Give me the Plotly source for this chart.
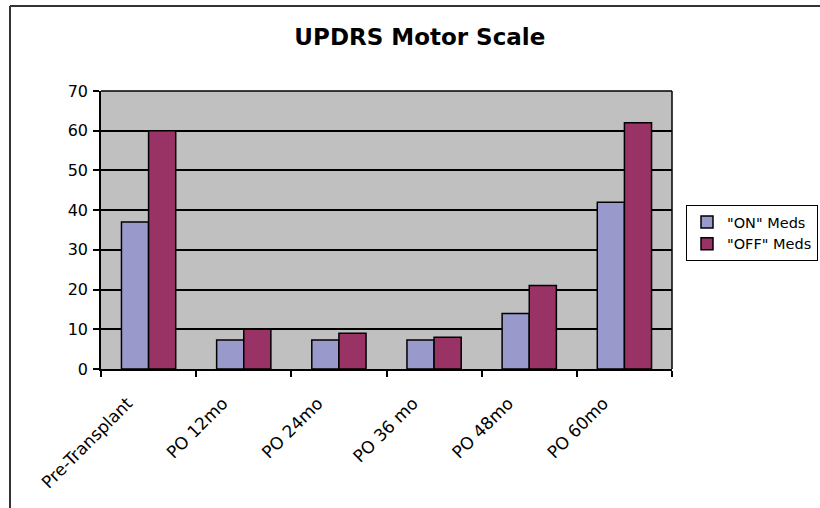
import plotly.graph_objects as go

categories = ["Pre-Transplant", "PO 12mo", "PO 24mo", "PO 36 mo", "PO 48mo", "PO 60mo"]
on_meds = [37, 7.3, 7.3, 7.3, 14, 42]
off_meds = [60, 10, 9, 8, 21, 62]
y_ticks = [0, 10, 20, 30, 40, 50, 60, 70]

FONT = "Verdana, DejaVu Sans, sans-serif"

fig = go.Figure()
fig.add_trace(go.Bar(name='"ON" Meds', x=categories, y=on_meds,
                     marker=dict(color="#9999CC", line=dict(color="#000000", width=1.5))))
fig.add_trace(go.Bar(name='"OFF" Meds', x=categories, y=off_meds,
                     marker=dict(color="#993366", line=dict(color="#000000", width=1.5))))

L, R, T, B = 101, 148, 91, 139
W, H = 820, 508
pw = W - L - R
ph = H - T - B

def px_x(x):
    return (x - L) / pw

def px_y(y):
    return (H - B - y) / ph

fig.update_layout(
    width=W, height=H,
    margin=dict(l=L, r=R, t=T, b=B, pad=0),
    paper_bgcolor="white",
    plot_bgcolor="#C0C0C0",
    barmode="group",
    bargap=0.43,
    bargroupgap=0,
    font=dict(family=FONT, size=16, color="black"),
    title=dict(text="<b>UPDRS Motor Scale</b>", x=0.512, xanchor="center",
               y=1 - 37 / H, yanchor="middle",
               font=dict(family=FONT, size=23, color="black")),
    legend=dict(xref="container", yref="container", x=686 / W, y=1 - 205 / H,
                xanchor="left", yanchor="top", bordercolor="black", borderwidth=1,
                bgcolor="white", font=dict(family=FONT, size=14.5), tracegroupgap=0,
                itemwidth=30),
    showlegend=True,
    xaxis=dict(
        tickangle=-45, ticks="outside", tickson="boundaries", ticklen=6,
        tickcolor="black", tickwidth=1.5,
        showline=True, linecolor="black", linewidth=1.5,
        showgrid=False, ticklabelshift=-21, ticklabelstandoff=16,
        tickfont=dict(family=FONT, size=17),
    ),
    yaxis=dict(
        range=[0, 70], tickvals=y_ticks, ticks="outside", ticklen=6,
        tickcolor="black", tickwidth=1.5,
        showline=True, linecolor="black", linewidth=1.5,
        showgrid=True, gridcolor="black", gridwidth=1.5,
        zeroline=False, ticklabelstandoff=2,
        tickfont=dict(family=FONT, size=16),
    ),
    shapes=[
        dict(type="line", xref="paper", yref="paper",
             x0=px_x(10), x1=px_x(830), y0=px_y(6), y1=px_y(6),
             line=dict(color="#333333", width=2)),
        dict(type="line", xref="paper", yref="paper",
             x0=px_x(10), x1=px_x(10), y0=px_y(6), y1=px_y(530),
             line=dict(color="#333333", width=2)),
        dict(type="line", xref="paper", yref="paper",
             x0=1, x1=1, y0=0, y1=1,
             line=dict(color="black", width=1.5)),
        dict(type="line", xref="paper", yref="paper",
             x0=0, x1=1, y0=1, y1=1,
             line=dict(color="black", width=1.5)),
    ],
)

fig.write_html("out.html", config={"displayModeBar": False},
               post_script="document.body.style.margin='0px';document.body.style.overflow='hidden';")
